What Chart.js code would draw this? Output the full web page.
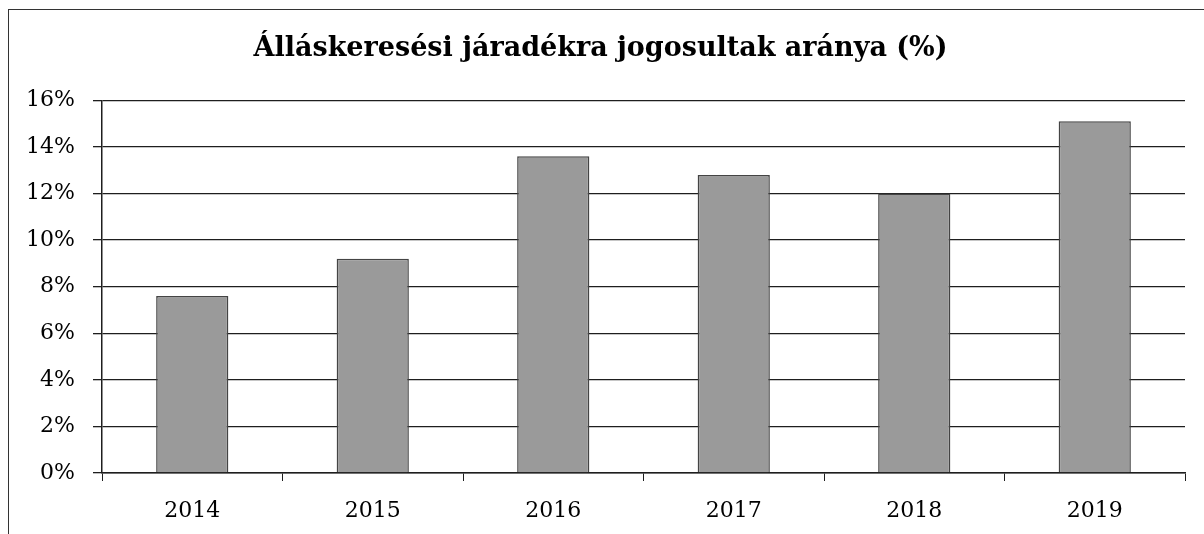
<!DOCTYPE html>
<html>
<head>
<meta charset="utf-8">
<script src="https://cdn.jsdelivr.net/npm/chart.js@4/dist/chart.umd.min.js"></script>
<style>
  body { margin: 0; background: #fff; }
  #wrap { position: relative; width: 1204px; height: 534px; }
  #frame { position: absolute; left: 8px; top: 9px; width: 1204px; height: 534px;
           border-left: 1px solid #333; border-top: 1px solid #333; }
  canvas { position: absolute; left: 0; top: 0; }
</style>
</head>
<body>
<div id="wrap">
  <div id="frame"></div>
  <canvas id="chart" width="1204" height="534"></canvas>
</div>
<script>
// Data
var years = ["2014", "2015", "2016", "2017", "2018", "2019"];
var shares = [7.6, 9.2, 13.6, 12.8, 12.0, 15.1];
var yMin = 0, yMax = 16, yStep = 2;
var chartTitle = "Álláskeresési járadékra jogosultak aránya (%)";

var dark = '#1e1e1e';

new Chart(document.getElementById('chart'), {
    type: 'bar',
    data: {
        labels: years,
        datasets: [{
            data: shares,
            backgroundColor: '#9a9a9a',
            borderColor: '#444',
            borderWidth: 1.5,
            categoryPercentage: 1,
            barPercentage: 0.4
        }]
    },
    options: {
        responsive: false,
        animation: false,
        // left padding keeps the title centred like the original
        layout: { padding: { left: 16, right: 19, top: 0, bottom: 0 } },
        plugins: {
            legend: { display: false },
            tooltip: { enabled: false },
            title: {
                display: true,
                text: chartTitle,
                color: '#000',
                font: { family: 'DejaVu Serif', size: 27, weight: 'bold', lineHeight: 1.2 },
                padding: { top: 33, bottom: 35 }
            }
        },
        scales: {
            x: {
                grid: { drawOnChartArea: false, drawTicks: true, tickLength: 8, color: dark, offset: true },
                border: { display: true, color: dark, width: 1.5 },
                ticks: { color: '#000', padding: 17, font: { family: 'DejaVu Serif', size: 22 } },
                afterFit: function(s) { s.height = 61; }
            },
            y: {
                min: yMin,
                max: yMax,
                grid: { color: dark, lineWidth: 1.3, tickLength: 9 },
                border: { display: true, color: dark, width: 1.5 },
                ticks: {
                    stepSize: yStep,
                    color: '#000',
                    padding: 18,
                    font: { family: 'DejaVu Serif', size: 22 },
                    callback: function(v) { return v + '%'; }
                },
                afterFit: function(s) { s.width = 86; }
            }
        }
    }
});
</script>
</body>
</html>
